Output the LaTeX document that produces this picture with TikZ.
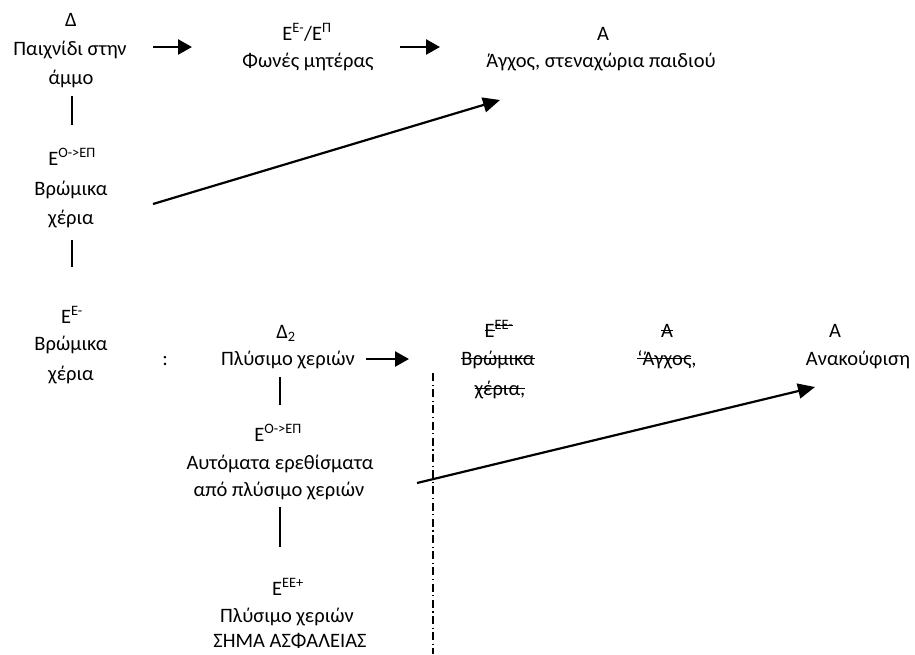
\documentclass[tikz,border=0pt]{standalone}
\usepackage{fontspec}
\setmainfont{Carlito}
\usetikzlibrary{arrows.meta}
\newcommand{\ssp}[1]{\textsuperscript{#1}}
\newcommand{\strk}[1]{\begingroup\setbox0\hbox{#1}\rlap{\rule[0.27em]{\wd0}{0.065em}}\box0\endgroup}
\begin{document}
\begin{tikzpicture}[x=1pt,y=-1pt,
  lbl/.style={font=\fontsize{20.5}{24}\selectfont, inner sep=0pt, text height=14pt, text depth=4pt, anchor=center},
  arr/.style={line width=2.6pt, -{Triangle[length=14pt,width=15pt]}},
  darr/.style={line width=2.2pt, -{Triangle[length=17pt,width=15pt]}},
  vline/.style={line width=1.6pt},
  dashdot/.style={line width=1.2pt, dash pattern=on 8pt off 3.5pt on 1.2pt off 3.5pt}]
\useasboundingbox (0,0) rectangle (915,654);
% left column
\node[lbl] (d1) at (71,21) {Δ};
\node[lbl] (d2) at (70,50) {Παιχνίδι στην};
\node[lbl] (d3) at (71,79) {άμμο};
\node[lbl] (e1) at (72,160) {E\ssp{O->EΠ}};
\node[lbl] (e2) at (71,190) {Βρώμικα};
\node[lbl] (e3) at (71,219) {χέρια};
\node[lbl] (f1) at (72,318) {E\ssp{E-}};
\node[lbl] (f2) at (71,345) {Βρώμικα};
\node[lbl] (f3) at (71,375) {χέρια};
\coordinate (v1a) at (72,96); \coordinate (v1b) at (72,125);
\coordinate (v2a) at (72,240); \coordinate (v2b) at (72,267);
\draw[vline] (v1a) -- (v1b);
\draw[vline] (v2a) -- (v2b);
% top row
\node[lbl] (g1) at (307,35) {E\ssp{E-}/E\ssp{Π}};
\node[lbl] (g2) at (308,62) {Φωνές μητέρας};
\node[lbl] (h1) at (603,35) {A};
\node[lbl] (h2) at (601,62) {Άγχος, στεναχώρια παιδιού};
\coordinate (a1s) at (153,47); \coordinate (a1e) at (192,47);
\coordinate (a2s) at (400,47); \coordinate (a2e) at (440,47);
\draw[arr] (a1s) -- (a1e);
\draw[arr] (a2s) -- (a2e);
\coordinate (a3s) at (153,204); \coordinate (a3e) at (500,100);
\draw[darr] (a3s) -- (a3e);
% middle row
\node[lbl] (c) at (165,360) {:};
\node[lbl] (k1) at (286,333) {Δ\textsubscript{2}};
\node[lbl] (k2) at (288,360) {Πλύσιμο χεριών};
\coordinate (a4s) at (366,359); \coordinate (a4e) at (409,359);
\draw[arr] (a4s) -- (a4e);
\coordinate (v3a) at (280,377); \coordinate (v3b) at (280,405);
\draw[vline] (v3a) -- (v3b);
\node[lbl] (m1) at (278,436) {E\ssp{O->EΠ}};
\node[lbl] (m2) at (280,464) {Αυτόματα ερεθίσματα};
\node[lbl] (m3) at (279,491) {από πλύσιμο χεριών};
\coordinate (v4a) at (280,507); \coordinate (v4b) at (280,547);
\draw[vline] (v4a) -- (v4b);
\node[lbl] (p1) at (288,590) {E\ssp{EE+}};
\node[lbl] (p2) at (287,617) {Πλύσιμο χεριών};
\node[lbl] (p3) at (290,642) {ΣΗΜΑ ΑΣΦΑΛΕΙΑΣ};
% struck-out and right
\node[lbl] (s1) at (499,332) {\strk{E}\ssp{\strk{EE-}}};
\node[lbl] (s2) at (498,360) {\strk{Βρώμικα}};
\node[lbl] (s3) at (500,390) {\strk{χέρια,}};
\node[lbl] (r1) at (667,332) {\strk{A}};
\node[lbl] (r2) at (667,360) {\strk{‘Άγχος},};
\node[lbl] (q1) at (835,332) {A};
\node[lbl] (q2) at (858,360) {Ανακούφιση};
\coordinate (dl1) at (433,373); \coordinate (dl2) at (433,654);
\draw[dashdot] (dl1) -- (dl2);
\coordinate (a5s) at (417,483); \coordinate (a5e) at (815,387);
\draw[darr] (a5s) -- (a5e);
\end{tikzpicture}
\end{document}
